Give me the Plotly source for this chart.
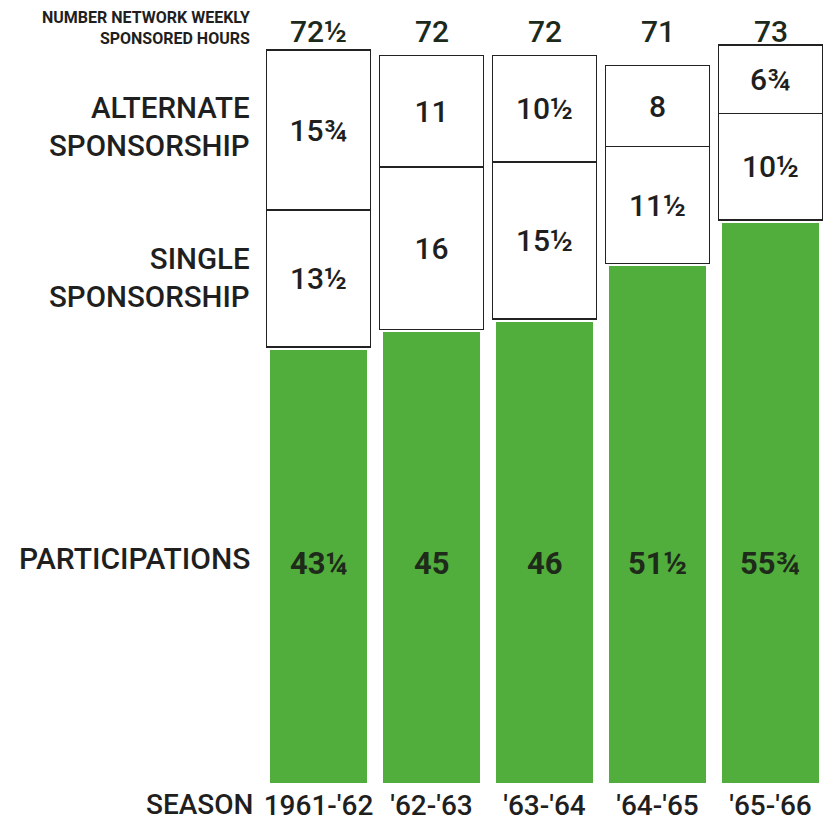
import plotly.graph_objects as go

seasons = ["1961-'62", "'62-'63", "'63-'64", "'64-'65", "'65-'66"]
participations = [43.25, 45, 46, 51.5, 55.75]
single = [13.5, 16, 15.5, 11.5, 10.5]
alternate = [15.75, 11, 10.5, 8, 6.75]
totals = [72.5, 72, 72, 71, 73]

part_text = ["43¼", "45", "46", "51½", "55¾"]
single_text = ["13½", "16", "15½", "11½", "10½"]
alt_text = ["15¾", "11", "10½", "8", "6¾"]
total_text = ["72½", "72", "72", "71", "73"]

FONT = "Roboto"
GREEN = "#52ae3c"
INK = "#1f1f1f"
PLOT_H = 790.0

fig = go.Figure()
fig.add_trace(go.Bar(x=seasons, y=participations, marker=dict(color=GREEN, line=dict(color="white", width=6)),
                     hoverinfo="skip"))
fig.add_trace(go.Bar(x=seasons, y=single, marker=dict(color="white", line=dict(color="#222", width=1.5)),
                     text=single_text, textposition="inside", insidetextanchor="middle",
                     textfont=dict(family=FONT, size=30, color=INK, weight=500), hoverinfo="skip"))
fig.add_trace(go.Bar(x=seasons, y=alternate, marker=dict(color="white", line=dict(color="#222", width=1.5)),
                     text=alt_text, textposition="inside", insidetextanchor="middle",
                     textfont=dict(family=FONT, size=30, color=INK, weight=500), hoverinfo="skip"))


def py(v):
    return 1 - v / PLOT_H


annotations = []
for s, tt in zip(seasons, total_text):
    annotations.append(dict(x=s, xref="x", yref="paper", y=py(32), text=tt, showarrow=False, yanchor="middle",
                            font=dict(family=FONT, size=30, color="#1c2a1c", weight=500)))
for s, pt in zip(seasons, part_text):
    annotations.append(dict(x=s, xref="x", yref="paper", y=py(566), text=pt, showarrow=False, yanchor="middle",
                            font=dict(family=FONT, size=31, color="#1e2a1a", weight=700)))

left = [
    ("NUMBER NETWORK WEEKLY<br>SPONSORED HOURS", 28, 16, 700),
    ("ALTERNATE<br>SPONSORSHIP", 128, 29.5, 500),
    ("SINGLE<br>SPONSORSHIP", 279, 29.5, 500),
    ("PARTICIPATIONS", 561, 30, 500),
]
for txt, yy, sz, w in left:
    annotations.append(dict(xref="paper", yref="paper", x=-10 / 565, y=py(yy), text=txt, showarrow=False,
                            xanchor="right", yanchor="middle", align="right",
                            font=dict(family=FONT, size=sz, color=INK, weight=w)))
annotations.append(dict(xref="paper", yref="paper", x=-7 / 565, y=py(809), text="SEASON",
                        showarrow=False, xanchor="right", yanchor="middle",
                        font=dict(family=FONT, size=28, color=INK, weight=500)))

fig.update_layout(
    width=827, height=822,
    margin=dict(l=262, r=0, t=0, b=32),
    barmode="stack", bargap=0.08, showlegend=False,
    plot_bgcolor="white", paper_bgcolor="white",
    annotations=annotations,
)
fig.update_xaxes(showgrid=False, zeroline=False, showline=False, ticks="",
                 tickfont=dict(family=FONT, size=28, color=INK, weight=500), ticklabelstandoff=0)
fig.update_yaxes(range=[0, 77.45], visible=False, showgrid=False, zeroline=False)

fig.write_html("out.html")
